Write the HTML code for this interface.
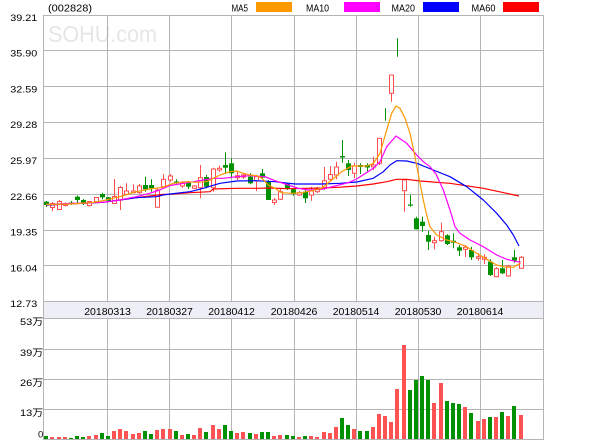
<!DOCTYPE html>
<html><head><meta charset="utf-8"><style>
html,body{margin:0;padding:0;background:#fff;}
svg{display:block;}
text{font-family:"Liberation Sans","Noto Sans CJK SC",sans-serif;fill:#000;}
</style></head><body>
<svg width="600" height="440" viewBox="0 0 600 440" xmlns="http://www.w3.org/2000/svg">
<rect x="0" y="0" width="600" height="440" fill="#fff"/>
<text x="48" y="42" font-size="23" textLength="109" lengthAdjust="spacingAndGlyphs" style="fill:#e6e6e6">SOHU.com</text>
<text x="48" y="11.5" font-size="10.5" textLength="44" lengthAdjust="spacingAndGlyphs">(002828)</text>
<text x="231.5" y="11.7" font-size="10.5" textLength="16.5" lengthAdjust="spacingAndGlyphs">MA5</text>
<rect x="256" y="2" width="36" height="10" fill="#ff9900"/>
<text x="306" y="11.7" font-size="10.5" textLength="23" lengthAdjust="spacingAndGlyphs">MA10</text>
<rect x="344" y="2" width="36" height="10" fill="#ff00ff"/>
<text x="391.5" y="11.7" font-size="10.5" textLength="23.5" lengthAdjust="spacingAndGlyphs">MA20</text>
<rect x="423" y="2" width="36" height="10" fill="#0000ff"/>
<text x="471.5" y="11.7" font-size="10.5" textLength="24" lengthAdjust="spacingAndGlyphs">MA60</text>
<rect x="503" y="2" width="36" height="10" fill="#ff0000"/>
<g stroke="#b4b4b4" stroke-width="1" fill="none">
<path d="M43.5 15.5H543.5V439.5H43.5Z"/>
<path d="M43.5 50.5H543.5M43.5 86.5H543.5M43.5 122.5H543.5M43.5 158.5H543.5M43.5 194.5H543.5M43.5 230.5H543.5M43.5 265.5H543.5M43.5 301.5H543.5"/>
<path d="M107.5 15V440M169.5 15V440M231.5 15V440M294.5 15V440M356.5 15V440M418.5 15V440M480.5 15V440"/>
<path d="M43.5 318.5H543.5M43.5 349.5H543.5M43.5 379.5H543.5M43.5 409.5H543.5"/>
</g>
<rect x="44" y="302" width="499" height="16" fill="#eeeef6"/>
<g font-size="9.5">
<text x="10.3" y="21" textLength="27" lengthAdjust="spacingAndGlyphs">39.21</text>
<text x="10.3" y="56.5" textLength="27" lengthAdjust="spacingAndGlyphs">35.90</text>
<text x="10.3" y="92.3" textLength="27" lengthAdjust="spacingAndGlyphs">32.59</text>
<text x="10.3" y="128" textLength="27" lengthAdjust="spacingAndGlyphs">29.28</text>
<text x="10.3" y="164" textLength="27" lengthAdjust="spacingAndGlyphs">25.97</text>
<text x="10.3" y="199.8" textLength="27" lengthAdjust="spacingAndGlyphs">22.66</text>
<text x="10.3" y="235.6" textLength="27" lengthAdjust="spacingAndGlyphs">19.35</text>
<text x="10.3" y="271.4" textLength="27" lengthAdjust="spacingAndGlyphs">16.04</text>
<text x="10.3" y="307" textLength="27" lengthAdjust="spacingAndGlyphs">12.73</text>
<text x="20" y="325" textLength="23.3" lengthAdjust="spacingAndGlyphs">53万</text>
<text x="20" y="356" textLength="23.3" lengthAdjust="spacingAndGlyphs">39万</text>
<text x="20" y="386" textLength="23.3" lengthAdjust="spacingAndGlyphs">26万</text>
<text x="20" y="416" textLength="23.3" lengthAdjust="spacingAndGlyphs">13万</text>
<text x="38" y="437.5">0</text>
</g>
<g font-size="10.5">
<text x="84.2" y="315" textLength="46.7" lengthAdjust="spacingAndGlyphs">20180313</text>
<text x="146.2" y="315" textLength="46.7" lengthAdjust="spacingAndGlyphs">20180327</text>
<text x="208.2" y="315" textLength="46.7" lengthAdjust="spacingAndGlyphs">20180412</text>
<text x="270.7" y="315" textLength="46.7" lengthAdjust="spacingAndGlyphs">20180426</text>
<text x="332.7" y="315" textLength="46.7" lengthAdjust="spacingAndGlyphs">20180514</text>
<text x="394.7" y="315" textLength="46.7" lengthAdjust="spacingAndGlyphs">20180530</text>
<text x="456.7" y="315" textLength="46.7" lengthAdjust="spacingAndGlyphs">20180614</text>
</g>
<g stroke="#ff4d4d" stroke-width="1" fill="#fff">
<path d="M52.5 202V211"/><rect x="50.5" y="203.5" width="4" height="4"/>
<path d="M59.5 200V210"/><rect x="57.5" y="201.5" width="4" height="8"/>
<path d="M65.5 202.5V206.5"/><rect x="63.5" y="203.5" width="4" height="2"/>
<path d="M89.5 201V206.5"/><rect x="87.5" y="201.5" width="4" height="4"/>
<path d="M96.5 197V202.5"/><rect x="94.5" y="197.5" width="4" height="4"/>
<path d="M114.5 179V203.5"/><rect x="112.5" y="196.5" width="4" height="7"/>
<path d="M120.5 186V210"/><rect x="118.5" y="187.5" width="4" height="12.5"/>
<path d="M126.5 183.3V195"/><rect x="124.5" y="191" width="4" height="3.3"/>
<path d="M133.5 184.3V193.5"/><rect x="131.5" y="191" width="4" height="1.7"/>
<path d="M139.5 184V194"/><rect x="137.5" y="186" width="4" height="6.7"/>
<path d="M157.5 188V207.3"/><rect x="155.5" y="190" width="4" height="17.3"/>
<path d="M163.5 174V187"/><rect x="161.5" y="179.3" width="4" height="7.4"/>
<path d="M170.5 174V181.7"/><rect x="168.5" y="176" width="4" height="4"/>
<path d="M182.5 181V188"/><rect x="180.5" y="183" width="4" height="3"/>
<path d="M194.5 185V189"/><rect x="192.5" y="186" width="4" height="2.3"/>
<path d="M200.5 165V198.3"/><rect x="198.5" y="177.7" width="4" height="10"/>
<path d="M213.5 167.7V191.7"/><rect x="211.5" y="169" width="4" height="18.7"/>
<path d="M219.5 165.7V171.7"/><rect x="217.5" y="168.3" width="4" height="1.7"/>
<path d="M237.5 172V180"/><rect x="235.5" y="175.7" width="4" height="2"/>
<path d="M243.5 173V179"/><rect x="241.5" y="175" width="4" height="2"/>
<path d="M256.5 175V191"/><rect x="254.5" y="176.7" width="4" height="4.3"/>
<path d="M274.5 198V205"/><rect x="272.5" y="200" width="4" height="2.5"/>
<path d="M280.5 188V200"/><rect x="278.5" y="191.7" width="4" height="7.6"/>
<path d="M299.5 191V196"/><rect x="297.5" y="192.7" width="4" height="2.3"/>
<path d="M311.5 186.7V200.7"/><rect x="309.5" y="191" width="4" height="4"/>
<path d="M317.5 187V193"/><rect x="315.5" y="188.7" width="4" height="3"/>
<path d="M324.5 167V190"/><rect x="322.5" y="180.7" width="4" height="7.8"/>
<path d="M330.5 166V180.7"/><rect x="328.5" y="174.5" width="4" height="4.8"/>
<path d="M336.5 161.7V179.3"/><rect x="334.5" y="167" width="4" height="8"/>
<path d="M354.5 162.7V178.3"/><rect x="352.5" y="166" width="4" height="7.3"/>
<path d="M373.5 156.7V170"/><rect x="371.5" y="165" width="4" height="2"/>
<path d="M379.5 138.3V165"/><rect x="377.5" y="138.3" width="4" height="25"/>
<path d="M391.5 75V101.7"/><rect x="389.5" y="75" width="4" height="18.3"/>
<path d="M404.5 179V211.7"/><rect x="402.5" y="180" width="4" height="10.7"/>
<path d="M434.5 236.7V249.3"/><rect x="432.5" y="240.7" width="4" height="2"/>
<path d="M441.5 222.7V241.7"/><rect x="439.5" y="231.7" width="4" height="9"/>
<path d="M465.5 245V257.3"/><rect x="463.5" y="247.3" width="4" height="2"/>
<path d="M478.5 253.3V260.7"/><rect x="476.5" y="256.7" width="4" height="1.6"/>
<path d="M484.5 254.3V264"/><rect x="482.5" y="257.3" width="4" height="2"/>
<path d="M496.5 267.3V277.3"/><rect x="494.5" y="268.7" width="4" height="8"/>
<path d="M508.5 265V276.7"/><rect x="506.5" y="266" width="4" height="10"/>
<path d="M521.5 256V268.7"/><rect x="519.5" y="257.3" width="4" height="11"/>
</g>
<g stroke="#009100" stroke-width="1" fill="none">
<path d="M46.5 201V207M71.5 201V205M77.5 195.5V202.7M83.5 199V205M102.5 192.7V199.3M108.5 197V201M145.5 176.7V191.7M151.5 179.3V191.7M176.5 179.3V185M188.5 181V189M206.5 175V188.3M225.5 152.3V173.3M231.5 158.3V178.3M250.5 173.3V184.3M262.5 169V178.5M268.5 180V200M287.5 183V190M293.5 188.3V195.7M305.5 190V203M342.5 140V162.7M348.5 160V176M360.5 163.3V174M367.5 163.3V171.7M385.5 108.3V120.7M397.5 38.3V56.7M410.5 195V206.7M416.5 216.7V229.3M422.5 216.7V231.7M428.5 230.7V250M447.5 234.3V245M453.5 233.3V248.3M459.5 245V256M471.5 246.7V260M490.5 259.3V276M502.5 260V274M514.5 250V262.7"/>
</g>
<g fill="#009100">
<rect x="44" y="201.7" width="5" height="3.3"/>
<rect x="69" y="202.5" width="5" height="1.5"/>
<rect x="75" y="196.7" width="5" height="3.3"/>
<rect x="81" y="200" width="5" height="3.3"/>
<rect x="100" y="194" width="5" height="3.3"/>
<rect x="106" y="197.3" width="5" height="3.4"/>
<rect x="143" y="185" width="5" height="4.3"/>
<rect x="149" y="185" width="5" height="3.3"/>
<rect x="174" y="181.5" width="5" height="1.5"/>
<rect x="186" y="182.7" width="5" height="4"/>
<rect x="204" y="177" width="5" height="9.7"/>
<rect x="223" y="165" width="5" height="2.7"/>
<rect x="229" y="163.3" width="5" height="10"/>
<rect x="248" y="176.7" width="5" height="6.6"/>
<rect x="260" y="173.3" width="5" height="4.4"/>
<rect x="266" y="181.7" width="5" height="18.3"/>
<rect x="285" y="184" width="5" height="4.7"/>
<rect x="291" y="189.3" width="5" height="4.7"/>
<rect x="303" y="191.7" width="5" height="6.6"/>
<rect x="340" y="156" width="5" height="1.5"/>
<rect x="346" y="163.3" width="5" height="6.7"/>
<rect x="358" y="165" width="5" height="2"/>
<rect x="365" y="165" width="5" height="2.5"/>
<rect x="408" y="204.5" width="5" height="1.2"/>
<rect x="414" y="218.3" width="5" height="11"/>
<rect x="420" y="221.7" width="5" height="4.3"/>
<rect x="426" y="235" width="5" height="6.7"/>
<rect x="445" y="235.3" width="5" height="8.7"/>
<rect x="451" y="240.7" width="5" height="2"/>
<rect x="457" y="247.3" width="5" height="3.4"/>
<rect x="469" y="250" width="5" height="7.3"/>
<rect x="488" y="261.7" width="5" height="13.3"/>
<rect x="500" y="268.3" width="5" height="5"/>
<rect x="512" y="257.3" width="5" height="3.4"/>
</g>
<g fill="none" stroke-width="1.2" stroke-linejoin="round">
<polyline stroke="#ff0000" points="46,205 103,202.3 136.3,197.7 163,194.3 170,194.3 190,192.7 210,191.7 213.3,189 236.7,188.3 256.7,188.3 270,188 288,188.7 321.7,188 338,187.3 356.7,186 373.3,184 386.7,181.7 396.7,179.3 406.7,179.3 420,181 450,183.3 483.3,188.3 506.7,193.3 519,196"/>
<polyline stroke="#0000ff" points="46,205 103,202.3 119.7,200 136.3,197.7 156.3,196.7 163,195 170,194 190,191.7 203.3,188.3 220,183.3 236.7,181 255,180.7 275,181.7 295,184 321.7,184 340,183.3 356.7,182 373.3,178.3 383.3,171.7 390,165 396.7,160.7 406.7,161 416.7,163.3 433.3,170 450,176.7 466.7,186.7 483.3,200 496.7,213.3 506.7,225 513.3,235 519,246"/>
<polyline stroke="#ff00ff" points="46,204.5 69.7,203.5 103,202.3 119.7,200 136.3,196.7 149.7,193.3 159.7,190 170,185.5 190,182.3 203.3,180 213.3,178.3 223.3,178.3 236.7,176.7 250,175.7 255,176 265,176.7 275,180.7 288.3,185 298.3,188.3 308.3,190 321.7,189.3 335,186 348.3,182.7 356.7,179 373.3,168.3 380,161.7 386.7,146.7 396,136 406.7,143.3 416.7,155 423.3,161.7 430,166.7 436,174 443.3,190 450,210 455,226.7 460,233.3 470,240 483.3,246.7 496.7,255 506.7,259.3 516.7,261.7 520.6,262"/>
<polyline stroke="#ff9900" points="46,204.5 70,204 93,202.5 103,200.7 119.7,196.7 136.3,191.7 149.7,189 163,187.3 173,183.3 186.7,181.7 196.7,182.3 206.7,181.7 213.3,178.3 220,175 230,171.7 236.7,171 243.3,173.3 250,175 256.7,175.7 262,178.3 268.3,185 275,188.3 281.7,192.7 291.7,193.3 301.7,192.7 311.7,190.7 321.7,188.3 331.7,180 341.7,171.7 351.7,166 366.7,166 373.3,163.3 380,153.3 386.7,130 391.7,113.3 396,106 400,108.3 405,118.3 410,133.3 415,156.7 420,183.3 423.3,200 426.7,215 430,226.7 436.7,235 446.7,240 456.7,242.7 466.7,246.7 476.7,253.3 486.7,259.3 496.7,265 506.7,267.3 513.3,267.3 520.6,263"/>
</g>
<g fill="#009100">
<rect x="44" y="436" width="4" height="3"/>
<rect x="69" y="438" width="4" height="1"/>
<rect x="75" y="436" width="4" height="3"/>
<rect x="81" y="437" width="4" height="2"/>
<rect x="100" y="433" width="4" height="6"/>
<rect x="106" y="436" width="4" height="3"/>
<rect x="143" y="431" width="4" height="8"/>
<rect x="149" y="434" width="4" height="5"/>
<rect x="174" y="431" width="4" height="8"/>
<rect x="186" y="434" width="4" height="5"/>
<rect x="204" y="432" width="4" height="7"/>
<rect x="223" y="425" width="4" height="14"/>
<rect x="229" y="431" width="4" height="8"/>
<rect x="248" y="433" width="4" height="6"/>
<rect x="260" y="432" width="4" height="7"/>
<rect x="266" y="432" width="4" height="7"/>
<rect x="285" y="435" width="4" height="4"/>
<rect x="291" y="436" width="4" height="3"/>
<rect x="303" y="436" width="4" height="3"/>
<rect x="340" y="418" width="4" height="21"/>
<rect x="346" y="425" width="4" height="14"/>
<rect x="358" y="431" width="4" height="8"/>
<rect x="365" y="431" width="4" height="8"/>
<rect x="408" y="390" width="4" height="49"/>
<rect x="414" y="380" width="4" height="59"/>
<rect x="420" y="376" width="4" height="63"/>
<rect x="426" y="380" width="4" height="59"/>
<rect x="445" y="401" width="4" height="38"/>
<rect x="451" y="403" width="4" height="36"/>
<rect x="457" y="404" width="4" height="35"/>
<rect x="469" y="413" width="4" height="26"/>
<rect x="488" y="417" width="4" height="22"/>
<rect x="500" y="412" width="4" height="27"/>
<rect x="512" y="406" width="4" height="33"/>
</g>
<g fill="#ff5252">
<rect x="50" y="437" width="4" height="2"/>
<rect x="57" y="437" width="4" height="2"/>
<rect x="63" y="437" width="4" height="2"/>
<rect x="87" y="436" width="4" height="3"/>
<rect x="94" y="435" width="4" height="4"/>
<rect x="112" y="431" width="4" height="8"/>
<rect x="118" y="429" width="4" height="10"/>
<rect x="124" y="431" width="4" height="8"/>
<rect x="131" y="434" width="4" height="5"/>
<rect x="137" y="433" width="4" height="6"/>
<rect x="155" y="430" width="4" height="9"/>
<rect x="161" y="429" width="4" height="10"/>
<rect x="168" y="429" width="4" height="10"/>
<rect x="180" y="435" width="4" height="4"/>
<rect x="192" y="435" width="4" height="4"/>
<rect x="198" y="428" width="4" height="11"/>
<rect x="211" y="425" width="4" height="14"/>
<rect x="217" y="429" width="4" height="10"/>
<rect x="235" y="433" width="4" height="6"/>
<rect x="241" y="432" width="4" height="7"/>
<rect x="254" y="434" width="4" height="5"/>
<rect x="272" y="436" width="4" height="3"/>
<rect x="278" y="435" width="4" height="4"/>
<rect x="297" y="437" width="4" height="2"/>
<rect x="309" y="436" width="4" height="3"/>
<rect x="315" y="437" width="4" height="2"/>
<rect x="322" y="432" width="4" height="7"/>
<rect x="328" y="433" width="4" height="6"/>
<rect x="334" y="427" width="4" height="12"/>
<rect x="352" y="429" width="4" height="10"/>
<rect x="371" y="427" width="4" height="12"/>
<rect x="377" y="414" width="4" height="25"/>
<rect x="383" y="416" width="4" height="23"/>
<rect x="389" y="422" width="4" height="17"/>
<rect x="395" y="389" width="4" height="50"/>
<rect x="402" y="345" width="4" height="94"/>
<rect x="432" y="403" width="4" height="36"/>
<rect x="439" y="383" width="4" height="56"/>
<rect x="463" y="407" width="4" height="32"/>
<rect x="476" y="421" width="4" height="18"/>
<rect x="482" y="419" width="4" height="20"/>
<rect x="494" y="417" width="4" height="22"/>
<rect x="506" y="416" width="4" height="23"/>
<rect x="519" y="415" width="4" height="24"/>
</g>
<path d="M43.5 439.5H543.5" stroke="#b4b4b4" stroke-width="1"/>
</svg>
</body></html>
